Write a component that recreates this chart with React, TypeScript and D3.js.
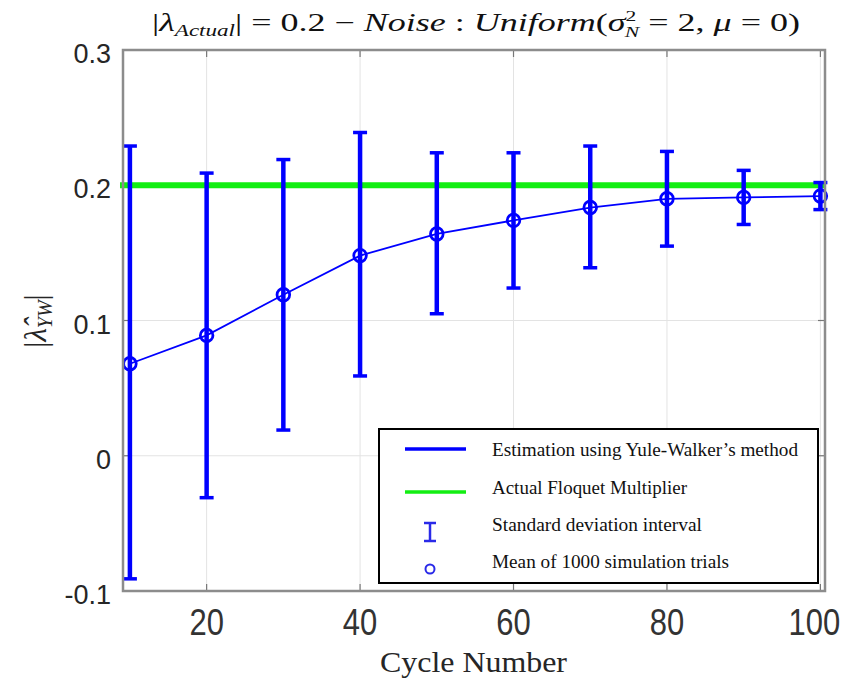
import React from "react";
import * as d3 from "d3";

const cycles = [10, 20, 30, 40, 50, 60, 70, 80, 90, 100];
const means = [0.068, 0.089, 0.119, 0.148, 0.164, 0.174, 0.1835, 0.19, 0.191, 0.192];
const upper = [0.229, 0.209, 0.219, 0.239, 0.224, 0.224, 0.229, 0.225, 0.211, 0.202];
const lower = [-0.091, -0.031, 0.019, 0.059, 0.105, 0.124, 0.139, 0.155, 0.171, 0.182];
const actualValue = 0.2;
const xTicks = [20, 40, 60, 80, 100];
const yTicks = [-0.1, 0, 0.1, 0.2, 0.3];
const yTickLabels = ["-0.1", "0", "0.1", "0.2", "0.3"];
const legendLabels = [
  "Estimation using Yule-Walker\u2019s method",
  "Actual Floquet Multiplier",
  "Standard deviation interval",
  "Mean of 1000 simulation trials",
];

const BLUE = "#0000ff";
const GREEN = "#12ee12";

export default function App() {
  const L = 123, R = 825, T = 50, B = 591;
  const x = d3.scaleLinear().domain([9.1, 100.6]).range([L, R]);
  const y = d3.scaleLinear().domain([-0.1, 0.3]).range([B, T]);
  const line = d3
    .line<number>()
    .x((_, i) => x(cycles[i]))
    .y((d) => y(d));
  const serif = "'Liberation Serif', 'DejaVu Serif', serif";
  const sans = "'Liberation Sans', Arial, sans-serif";

  const legendX = 379, legendY = 429, legendW = 439, legendH = 154;
  const legendBaselines = [456, 494, 531, 568];
  const legendWidths = [306, 195, 210, 237];

  return (
    <svg
      width={847}
      height={681}
      style={{ position: "absolute", left: 0, top: 0, background: "#fff" }}
    >
      <rect x={0} y={0} width={847} height={681} fill="#fff" />
      {/* grid */}
      {xTicks.map((t) => (
        <line key={"gx" + t} x1={x(t)} x2={x(t)} y1={T} y2={B} stroke="#e3e3e3" strokeWidth={1} />
      ))}
      {yTicks.map((t) => (
        <line key={"gy" + t} x1={L} x2={R} y1={y(t)} y2={y(t)} stroke="#e3e3e3" strokeWidth={1} />
      ))}
      {/* ticks inside */}
      {xTicks.map((t) => (
        <g key={"tx" + t}>
          <line x1={x(t)} x2={x(t)} y1={B} y2={B - 7} stroke="#777" strokeWidth={1.2} />
          <line x1={x(t)} x2={x(t)} y1={T} y2={T + 7} stroke="#777" strokeWidth={1.2} />
        </g>
      ))}
      {yTicks.map((t) => (
        <g key={"ty" + t}>
          <line x1={L} x2={L + 7} y1={y(t)} y2={y(t)} stroke="#777" strokeWidth={1.2} />
          <line x1={R} x2={R - 7} y1={y(t)} y2={y(t)} stroke="#777" strokeWidth={1.2} />
        </g>
      ))}
      {/* green actual line */}
      <line x1={L - 3} x2={R} y1={y(actualValue)} y2={y(actualValue)} stroke={GREEN} strokeWidth={6} />
      {/* mean line */}
      <path d={line(means) || ""} fill="none" stroke={BLUE} strokeWidth={1.8} />
      {/* error bars */}
      {cycles.map((c, i) => {
        const cx = x(c);
        return (
          <g key={"eb" + c}>
            <line x1={cx} x2={cx} y1={y(upper[i])} y2={y(lower[i])} stroke={BLUE} strokeWidth={4.5} />
            <line x1={cx - 7} x2={cx + 7} y1={y(upper[i])} y2={y(upper[i])} stroke={BLUE} strokeWidth={3.5} />
            <line x1={cx - 7} x2={cx + 7} y1={y(lower[i])} y2={y(lower[i])} stroke={BLUE} strokeWidth={3.5} />
            <circle cx={cx} cy={y(means[i])} r={6.3} fill="none" stroke={BLUE} strokeWidth={2.8} />
          </g>
        );
      })}
      {/* axes box */}
      <rect x={L} y={T} width={R - L} height={B - T} fill="none" stroke="#8c8c8c" strokeWidth={2.5} />
      {/* y tick labels */}
      {yTicks.map((t, i) => (
        <text
          key={"yl" + t}
          x={111}
          y={y(t) + 13}
          textAnchor="end"
          fontFamily={sans}
          fontSize={27}
          fill="#262626"
        >
          {yTickLabels[i]}
        </text>
      ))}
      {/* x tick labels */}
      {xTicks.map((t) => (
        <text
          key={"xl" + t}
          transform={`translate(${x(t) - (t === 100 ? 6 : 0)},635) scale(1,1.22)`}
          textAnchor="middle"
          fontFamily={sans}
          fontSize={31}
          fill="#333"
        >
          {t}
        </text>
      ))}
      {/* x label */}
      <text x={380} y={672} fontFamily={serif} fontSize={29} fill="#262626" textLength={187} lengthAdjust="spacingAndGlyphs">
        Cycle Number
      </text>
      {/* y label */}
      <text
        transform="translate(46,321) rotate(-90)"
        textAnchor="middle"
        fontFamily={serif}
        fontSize={31}
        fill="#262626"
      >
        <tspan>|</tspan>
        <tspan fontStyle="italic">{"\u03BB\u0302"}</tspan>
        <tspan fontStyle="italic" fontSize={20} dy={6}>YW</tspan>
        <tspan dy={-6}>|</tspan>
      </text>
      {/* title */}
      <text x={152} y={31} fontFamily={serif} fontSize={25} fill="#111" textLength={648} lengthAdjust="spacingAndGlyphs">
        <tspan>|</tspan>
        <tspan fontStyle="italic">{"\u03BB"}</tspan>
        <tspan fontStyle="italic" fontSize={16} dy={5}>Actual</tspan>
        <tspan dy={-5}>{"| = 0.2 \u2212 "}</tspan>
        <tspan fontStyle="italic">Noise</tspan>
        <tspan>{" : "}</tspan>
        <tspan fontStyle="italic">Uniform</tspan>
        <tspan>(</tspan>
        <tspan fontStyle="italic">{"\u03C3"}</tspan>
        <tspan fontSize={15} dy={-10}>2</tspan>
        <tspan fontSize={15} fontStyle="italic" dx={-8} dy={16}>N</tspan>
        <tspan dy={-6}>{" = 2, "}</tspan>
        <tspan fontStyle="italic">{"\u03BC"}</tspan>
        <tspan>{" = 0)"}</tspan>
      </text>
      {/* legend */}
      <rect x={legendX} y={legendY} width={legendW} height={legendH} fill="#fff" stroke="#000" strokeWidth={2} />
      <line x1={405} x2={466} y1={449} y2={449} stroke={BLUE} strokeWidth={3.5} />
      <line x1={405} x2={466} y1={492} y2={492} stroke={GREEN} strokeWidth={3.5} />
      <g stroke="#2a2ae8" strokeWidth={2.5}>
        <line x1={430} x2={430} y1={523} y2={541} />
        <line x1={424} x2={436} y1={523} y2={523} />
        <line x1={424} x2={436} y1={541} y2={541} />
      </g>
      <circle cx={430} cy={569} r={4.5} fill="none" stroke="#2a2ae8" strokeWidth={2} />
      {legendLabels.map((lab, i) => (
        <text
          key={lab}
          x={492}
          y={legendBaselines[i]}
          fontFamily={serif}
          fontSize={18}
          fill="#111"
          textLength={legendWidths[i]}
          lengthAdjust="spacingAndGlyphs"
        >
          {lab}
        </text>
      ))}
    </svg>
  );
}
